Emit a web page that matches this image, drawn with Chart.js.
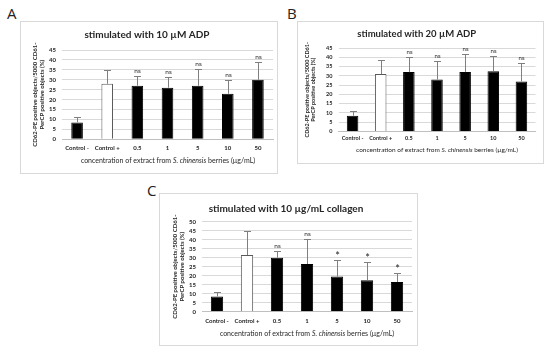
<!DOCTYPE html>
<html>
<head>
<meta charset="utf-8">
<script src="https://cdn.jsdelivr.net/npm/chart.js@4.4.1/dist/chart.umd.min.js"></script>
<style>
  body { margin: 0; width: 550px; height: 352px; background: #fff; position: relative; overflow: hidden; }
  .panel { position: absolute; border: 1px solid #d9d9d9; background: #fff; }
  .panel canvas { display: block; }
  .letter { position: absolute; font-family: 'Open Sans', sans-serif; font-size: 15px; color: #222; line-height: 1; }
  .xtitle { position: absolute; transform: translate(-50%, -50%); white-space: nowrap; font-family: Lato, 'Open Sans', sans-serif; color: #262626; line-height: 1; }
</style>
</head>
<body>
<div class="panel" style="left:20px;top:21px"><canvas id="chart-a" width="256" height="151"></canvas></div>
<div class="panel" style="left:297px;top:21px"><canvas id="chart-b" width="245" height="141"></canvas></div>
<div class="panel" style="left:159px;top:193px"><canvas id="chart-c" width="257" height="151"></canvas></div>
<div class="letter" style="left:7px;top:6px">A</div>
<div class="letter" style="left:287px;top:6px">B</div>
<div class="letter" style="left:147px;top:183px">C</div>
<div class="xtitle" style="left:168px;top:160px;font-size:7px">concentration of extract from <i>S. chinensis</i> berries (µg/mL)</div>
<div class="xtitle" style="left:437px;top:150px;font-size:6.5px">concentration of extract from <i>S. chinensis</i> berries (µg/mL)</div>
<div class="xtitle" style="left:307px;top:333px;font-size:7px">concentration of extract from <i>S. chinensis</i> berries (µg/mL)</div>
<script>
// categories on the x axis
const categories = ['Control -', 'Control +', '0.5', '1', '5', '10', '50'];
const yTitle = ['CD62-PE positive objects/5000 CD61-', 'PerCP positive objects (%)'];

// A: stimulated with 10 uM ADP
const valsA = [8.5, 28, 27, 26, 27, 23, 30];
const errA = [2.5, 7, 5, 5.5, 8.5, 7, 9];
const marksA = ['', '', 'ns', 'ns', 'ns', 'ns', 'ns'];

// B: stimulated with 20 uM ADP
const valsB = [8.5, 31, 32, 28, 32, 32.5, 27];
const errB = [2.5, 7.5, 8, 10, 9.5, 8, 10];
const marksB = ['', '', 'ns', 'ns', 'ns', 'ns', 'ns'];

// C: stimulated with 10 ug/mL collagen
const valsC = [8.5, 31.5, 30, 26.5, 19.5, 17.5, 16.5];
const errC = [2.5, 13.5, 3.5, 14, 9, 10, 5];
const marksC = ['', '', 'ns', 'ns', '*', '*', '*'];

const FONT = 'Lato, "Open Sans", sans-serif';

// error bars (upper half) and the ns / * marks above them
const extrasPlugin = {
  id: 'extras',
  afterDatasetsDraw(chart, args, opts) {
    const ctx = chart.ctx;
    const x = chart.scales.x, y = chart.scales.y;
    ctx.save();
    opts.values.forEach((v, i) => {
      const px = Math.round(x.getPixelForValue(i));
      const top = Math.round(y.getPixelForValue(v + opts.err[i]));
      ctx.strokeStyle = '#7f7f7f';
      ctx.beginPath();
      ctx.moveTo(px + 0.5, y.getPixelForValue(v));
      ctx.lineTo(px + 0.5, top);
      ctx.moveTo(px - 3, top + 0.5);
      ctx.lineTo(px + 4, top + 0.5);
      ctx.stroke();
      const m = opts.marks[i];
      if (!m) return;
      ctx.fillStyle = '#262626';
      ctx.textAlign = 'center';
      ctx.textBaseline = 'middle';
      if (m === '*') {
        ctx.font = '11px ' + FONT;
        ctx.fillText(m, px + 0.5, top - 4);
      } else {
        ctx.font = opts.markSize + 'px ' + FONT;
        ctx.fillText(m, px + 0.5, top - 5);
      }
    });
    ctx.restore();
  }
};

function drawPanel(id, cfg) {
  return new Chart(document.getElementById(id), {
    type: 'bar',
    data: {
      labels: categories,
      datasets: [{
        data: cfg.values,
        backgroundColor: categories.map((c, i) => i === 1 ? '#ffffff' : '#000000'),
        borderColor: categories.map((c, i) => i === 1 ? '#595959' : '#000000'),
        borderWidth: 1,
        barPercentage: cfg.barPct,
        categoryPercentage: 1
      }]
    },
    options: {
      responsive: false,
      animation: false,
      devicePixelRatio: 1,
      layout: { padding: { left: 0, top: 0, bottom: 0, right: cfg.padRight } },
      plugins: {
        legend: { display: false },
        tooltip: { enabled: false },
        title: {
          display: true,
          text: cfg.title,
          color: '#262626',
          font: { family: FONT, size: cfg.titleFont, weight: 'bold', lineHeight: 1.2 },
          padding: { top: cfg.titleTop, bottom: cfg.titleBottom }
        },
        extras: { values: cfg.values, err: cfg.err, marks: cfg.marks, markSize: cfg.markSize }
      },
      scales: {
        x: {
          grid: { display: false, drawTicks: false },
          border: { display: true, color: '#bfbfbf' },
          ticks: { color: '#262626', font: { family: FONT, size: cfg.tickFont, weight: 'bold' }, padding: cfg.xTickPad, maxRotation: 0, autoSkip: false },
          afterFit: s => { s.height = cfg.xHeight; }
        },
        y: {
          min: 0,
          max: cfg.max,
          ticks: { stepSize: 5, autoSkip: false, color: '#262626', font: { family: FONT, size: cfg.tickFont, weight: 'bold' }, padding: 6 },
          grid: { color: '#d9d9d9', drawTicks: false },
          border: { display: false },
          title: {
            display: true,
            text: yTitle,
            color: '#262626',
            font: { family: FONT, size: cfg.yTitleFont, weight: 'bold', lineHeight: cfg.yTitleLH },
            padding: { top: cfg.yTitlePad, bottom: 0 }
          },
          afterFit: s => { s.width = cfg.plotLeft; }
        }
      }
    },
    plugins: [extrasPlugin]
  });
}

drawPanel('chart-a', {
  title: 'stimulated with 10 µM ADP', values: valsA, err: errA, marks: marksA, max: 45,
  barPct: 0.385, padRight: 4, plotLeft: 41, xHeight: 33.7,
  titleFont: 10, titleTop: 7, titleBottom: 9,
  tickFont: 6, xTickPad: 5, markSize: 6.5,
  yTitleFont: 6, yTitleLH: 1.15, yTitlePad: 10.5
});

drawPanel('chart-b', {
  title: 'stimulated with 20 µM ADP', values: valsB, err: errB, marks: marksB, max: 45,
  barPct: 0.41, padRight: 7.5, plotLeft: 40.5, xHeight: 31.5,
  titleFont: 9.5, titleTop: 6.3, titleBottom: 8.3,
  tickFont: 5.5, xTickPad: 3.5, markSize: 6,
  yTitleFont: 5.5, yTitleLH: 1.1, yTitlePad: 5.7
});

drawPanel('chart-c', {
  title: 'stimulated with 10 µg/mL collagen', values: valsC, err: errC, marks: marksC, max: 50,
  barPct: 0.41, padRight: 5, plotLeft: 42, xHeight: 33.3,
  titleFont: 10, titleTop: 9, titleBottom: 6.7,
  tickFont: 6, xTickPad: 6, markSize: 6.5,
  yTitleFont: 6, yTitleLH: 1.15, yTitlePad: 11.5
});
</script>
</body>
</html>
